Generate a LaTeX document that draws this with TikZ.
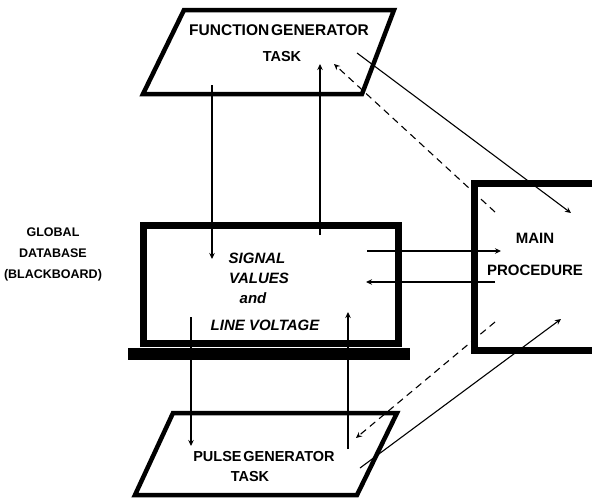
\documentclass[tikz,border=0pt]{standalone}
\usepackage{fontspec}
\setmainfont{Liberation Sans}
\usetikzlibrary{arrows.meta}
\begin{document}
\begin{tikzpicture}[x=1pt,y=-1pt,
  parbox/.style={line width=4.5pt, line join=miter},
  dbbox/.style={line width=7pt, line join=miter},
  conn/.style={line width=1.1pt, -{Stealth[length=6pt,width=5.5pt]}},
  dconn/.style={conn, dash pattern=on 7pt off 5pt},
  lbl/.style={font=\fontsize{14.5}{20}\selectfont\bfseries, align=center, inner sep=0pt},
  slbl/.style={font=\fontsize{12.5}{21}\selectfont\bfseries, align=center, inner sep=0pt},
  ilbl/.style={font=\fontsize{15}{20}\selectfont\bfseries\itshape, inner sep=0pt}]
\useasboundingbox (0,0) rectangle (592,498);
\begin{scope}
\clip (0,0) rectangle (592,498);
% function generator task (parallelogram)
\draw[parbox] (143,94) -- (362,94) -- (394,10) -- (184,10) -- cycle;
\node[lbl, font=\fontsize{15.5}{20}\selectfont\bfseries] (fgt) at (279,30) {FUNCTION\hspace{0.12em}GENERATOR};
\node[lbl] (fgt2) at (282,57) {TASK};
% pulse generator task (parallelogram)
\draw[parbox] (135,495) -- (357,495) -- (397,413) -- (173,413) -- cycle;
\node[lbl] (pgt) at (264,457) {PULSE\hspace{0.12em}GENERATOR};
\node[lbl] (pgt2) at (250,477) {TASK};
% global database box and base bar
\draw[dbbox] (143,225) rectangle (398,343);
\fill (128,348) rectangle (410,360);
\node[ilbl] (sv1) at (257,258) {SIGNAL};
\node[ilbl] (sv2) at (259,278) {VALUES};
\node[ilbl] (sv3) at (253,298) {and};
\node[ilbl] (sv4) at (265,325) {LINE VOLTAGE};
\node[slbl] (gdb) at (53,254) {GLOBAL\\DATABASE\\(BLACKBOARD)};
% main procedure (open at right)
\draw[dbbox] (620,183) -- (474,183) -- (474,350) -- (620,350);
\node[lbl, font=\fontsize{15}{20}\selectfont\bfseries] (mp1) at (535,238) {MAIN};
\node[lbl, font=\fontsize{15}{20}\selectfont\bfseries] (mp2) at (535,270) {PROCEDURE};
% connector end points
\coordinate (a1s) at (212,85);  \coordinate (a1e) at (212,259);
\coordinate (a2s) at (320,235); \coordinate (a2e) at (320,64);
\coordinate (a3s) at (495,212); \coordinate (a3e) at (334,64);
\coordinate (a4s) at (357,53);  \coordinate (a4e) at (571,213);
\coordinate (a5s) at (367,251); \coordinate (a5e) at (501,251);
\coordinate (a6s) at (495,282); \coordinate (a6e) at (366,282);
\coordinate (a7s) at (191,317); \coordinate (a7e) at (191,446);
\coordinate (a8s) at (348,449); \coordinate (a8e) at (348,312);
\coordinate (a9s) at (495,322); \coordinate (a9e) at (356,438);
\coordinate (a10s) at (360,468); \coordinate (a10e) at (561,319);
\draw[conn] (a1s) -- (a1e);
\draw[conn] (a2s) -- (a2e);
\draw[dconn] (a3s) -- (a3e);
\draw[conn] (a4s) -- (a4e);
\draw[conn] (a5s) -- (a5e);
\draw[conn] (a6s) -- (a6e);
\draw[conn] (a7s) -- (a7e);
\draw[conn] (a8s) -- (a8e);
\draw[dconn] (a9s) -- (a9e);
\draw[conn] (a10s) -- (a10e);
\end{scope}
\end{tikzpicture}
\end{document}
